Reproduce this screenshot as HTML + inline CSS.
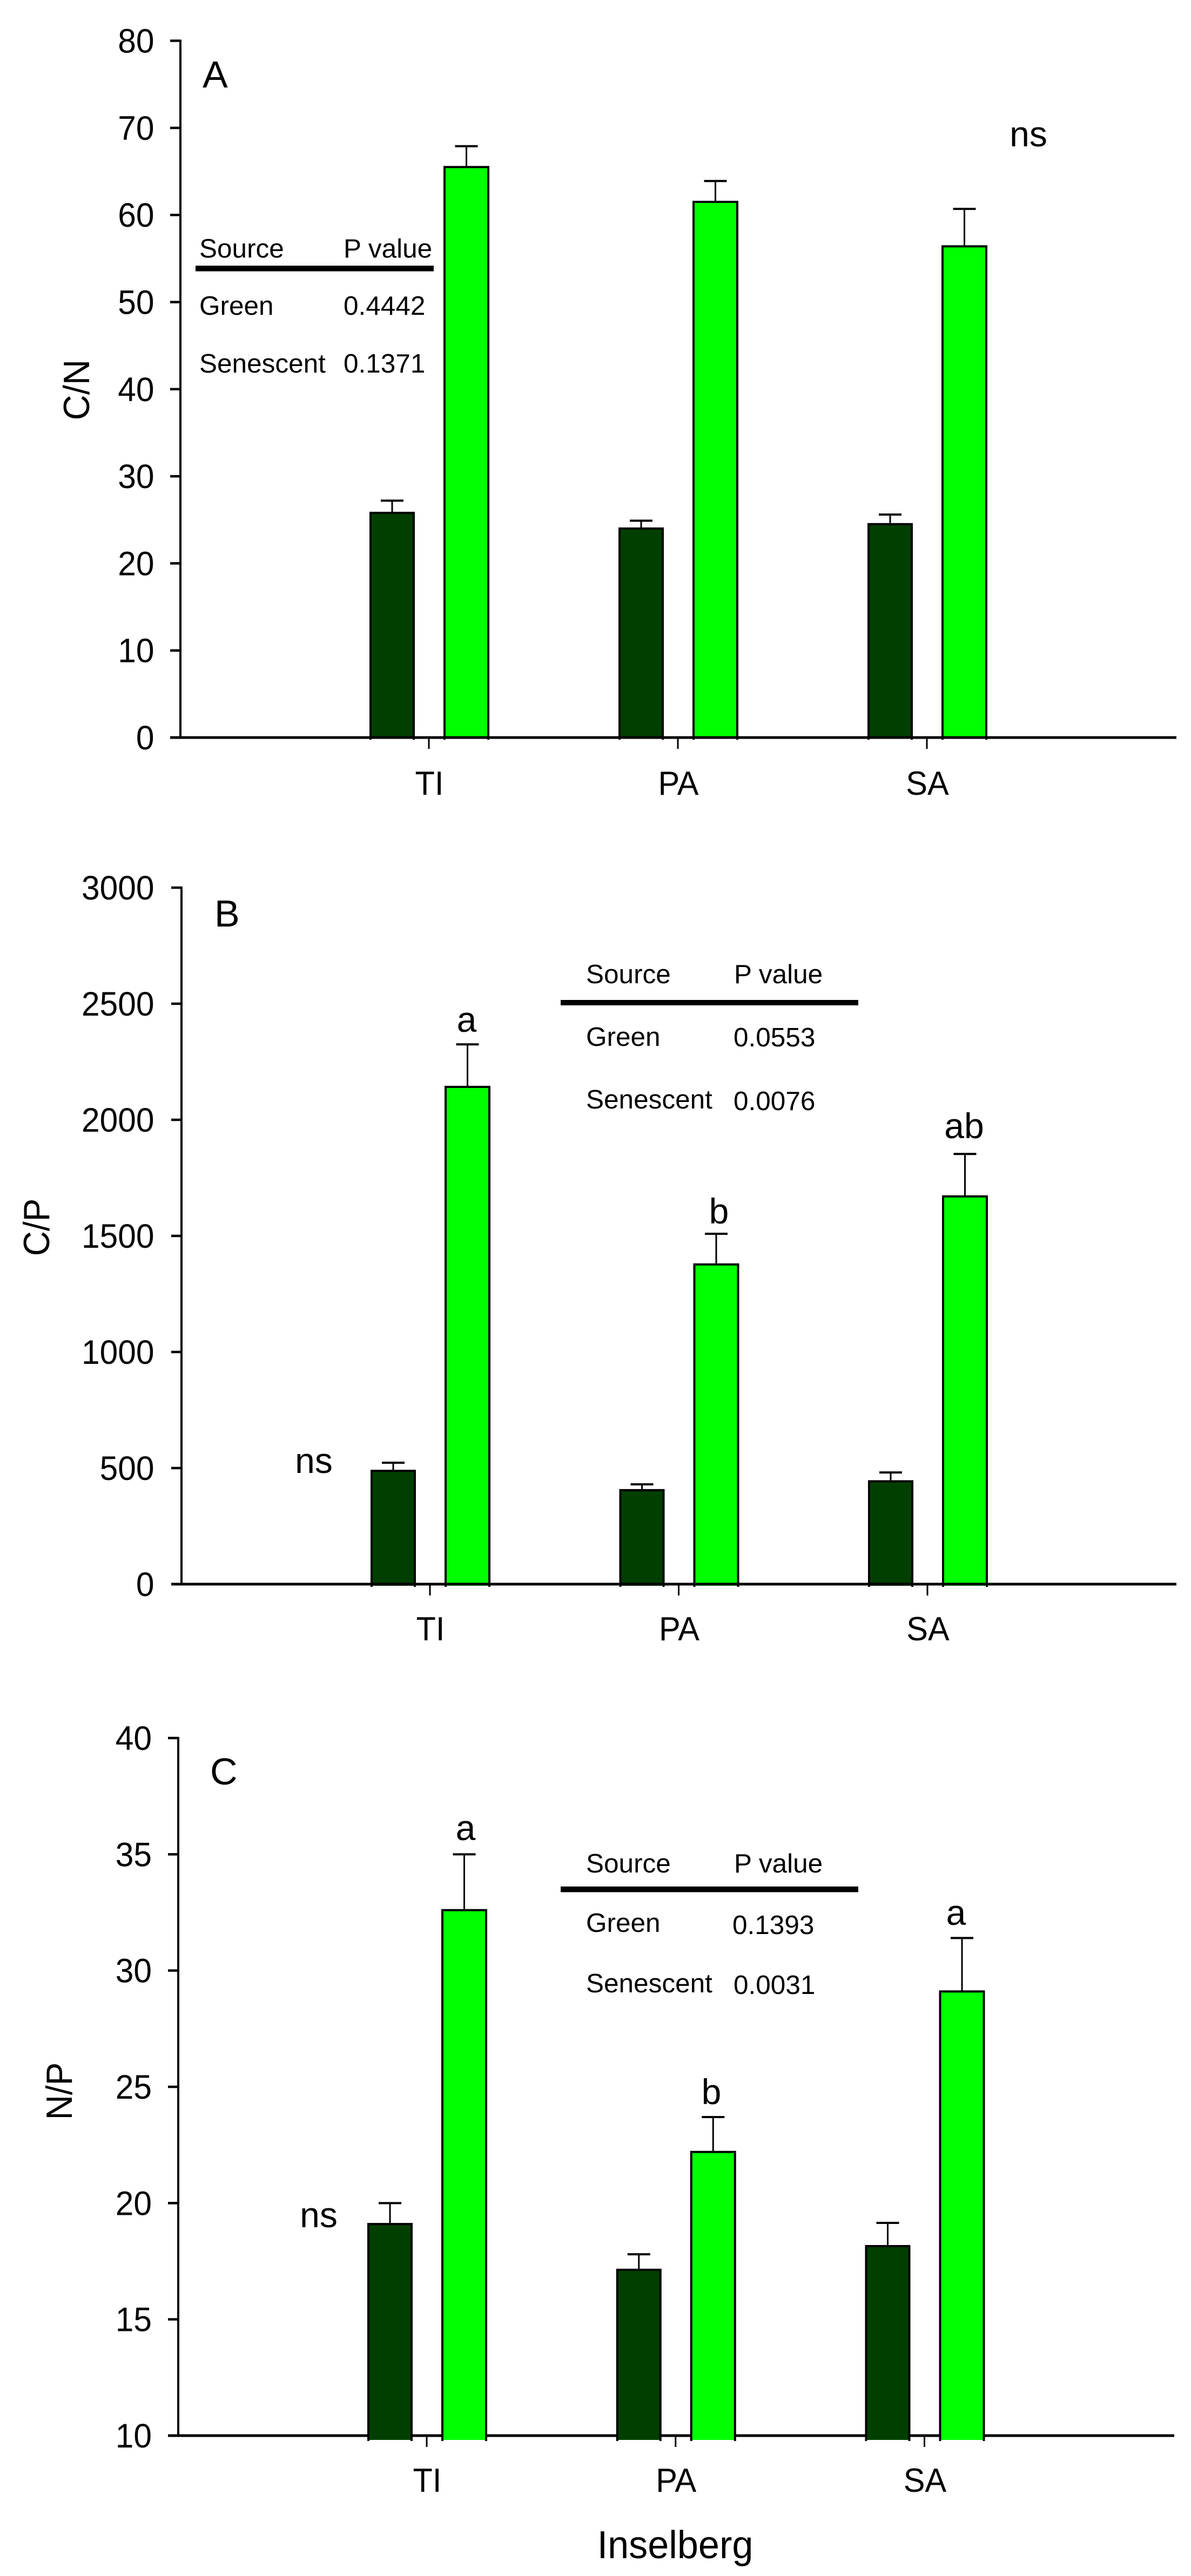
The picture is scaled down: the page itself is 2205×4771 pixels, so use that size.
<!DOCTYPE html>
<html lang="en">
<head>
<meta charset="utf-8">
<title>C/N, C/P and N/P by inselberg</title>
<style>
html,body{margin:0;padding:0;background:#fff;}
svg{display:block;}
text{font-family:"Liberation Sans",Arial,sans-serif;fill:#000;}
.lg{font-size:49.5px;}
.sig{font-size:66px;text-anchor:middle;}
.pl{font-size:70px;}
.yt{font-size:68px;text-anchor:middle;}
</style>
</head>
<body>
<svg id="figure" xmlns="http://www.w3.org/2000/svg" width="2205" height="4771" viewBox="0 0 2205 4771">
<rect x="0" y="0" width="2205" height="4771" fill="#ffffff"/>
<g id="plots"></g>

<text class="pl" x="375" y="162">A</text>
<text class="yt" transform="translate(165,722) rotate(-90) scale(.96,1)">C/N</text>
<text class="sig" x="1904" y="271">ns</text>
<g>
<text class="lg" x="369" y="477">Source</text>
<text class="lg" x="636" y="477">P value</text>
<rect x="362" y="492" width="441" height="10.5" fill="#000"/>
<text class="lg" x="369" y="583">Green</text>
<text class="lg" x="636" y="583">0.4442</text>
<text class="lg" x="369" y="690">Senescent</text>
<text class="lg" x="636" y="690">0.1371</text>
</g>

<text class="pl" x="397" y="1716">B</text>
<text class="yt" transform="translate(91,2273) rotate(-90) scale(.94,1)">C/P</text>
<text class="sig" x="581" y="2728">ns</text>
<text class="sig" x="864" y="1911">a</text>
<text class="sig" x="1331" y="2266">b</text>
<text class="sig" x="1785" y="2108">ab</text>
<g>
<text class="lg" x="1085" y="1821">Source</text>
<text class="lg" x="1359" y="1821">P value</text>
<rect x="1038" y="1852" width="551" height="10" fill="#000"/>
<text class="lg" x="1085" y="1937">Green</text>
<text class="lg" x="1358" y="1938">0.0553</text>
<text class="lg" x="1085" y="2053">Senescent</text>
<text class="lg" x="1358" y="2056">0.0076</text>
</g>

<text class="pl" x="389" y="3305">C</text>
<text class="yt" transform="translate(133,3873) rotate(-90) scale(.94,1)">N/P</text>
<text class="sig" x="590" y="4125">ns</text>
<text class="sig" x="862" y="3408">a</text>
<text class="sig" x="1317" y="3897">b</text>
<text class="sig" x="1770" y="3565">a</text>
<g>
<text class="lg" x="1085" y="3468">Source</text>
<text class="lg" x="1359" y="3468">P value</text>
<rect x="1038" y="3494" width="551" height="10.5" fill="#000"/>
<text class="lg" x="1085" y="3578">Green</text>
<text class="lg" x="1356" y="3582">0.1393</text>
<text class="lg" x="1085" y="3690">Senescent</text>
<text class="lg" x="1358" y="3693">0.0031</text>
</g>

<text font-size="72" text-anchor="middle" transform="translate(1250,4738) scale(.975,1)">Inselberg</text>
</svg>

<script>
const categories = ['TI', 'PA', 'SA'];

const cnTicks = [0, 10, 20, 30, 40, 50, 60, 70, 80];
const cnGreen = [25.8, 24.0, 24.5];
const cnGreenUpper = [27.2, 24.9, 25.6];
const cnSenescent = [65.5, 61.5, 56.4];
const cnSenescentUpper = [67.9, 63.9, 60.7];

const cpTicks = [0, 500, 1000, 1500, 2000, 2500, 3000];
const cpGreen = [488, 405, 443];
const cpGreenUpper = [523, 430, 481];
const cpSenescent = [2142, 1377, 1670];
const cpSenescentUpper = [2325, 1509, 1853];

const npTicks = [10, 15, 20, 25, 30, 35, 40];
const npGreen = [19.1, 17.13, 18.15];
const npGreenUpper = [20.0, 17.8, 19.15];
const npSenescent = [32.6, 22.2, 29.1];
const npSenescentUpper = [35.0, 23.7, 31.4];

const SVGNS = 'http://www.w3.org/2000/svg';
const root = document.getElementById('plots');

function mk(parent, tag, attrs) {
  const el = document.createElementNS(SVGNS, tag);
  for (const k in attrs) el.setAttribute(k, attrs[k]);
  parent.appendChild(el);
  return el;
}

function drawPanel(cfg) {
  const panel = mk(root, 'g', {});
  
  

  const tMin = cfg.ticks[0];
  const tMax = cfg.ticks[cfg.ticks.length - 1];
  const yScale = function (v) {
    return cfg.yBase + (v - tMin) * (cfg.yTop - cfg.yBase) / (tMax - tMin);
  };
  const xScale = function (i) {
    return cfg.x0 + i * cfg.dx;
  };

  function drawAxes() {
    const yAxis = mk(panel, 'line', {x1: cfg.axisX, x2: cfg.axisX, y1: yScale(tMax) - 2, y2: yScale(tMin), stroke: '#000', 'stroke-width': 4});
    
    

    const xAxis = mk(panel, 'line', {x1: cfg.axisX - 19, x2: cfg.axisEnd, y1: yScale(tMin), y2: yScale(tMin), stroke: '#000', 'stroke-width': 5});
    
    

    cfg.ticks.forEach(function (t) {
      const y = yScale(t);
      const tick = mk(panel, 'line', {x1: cfg.axisX - 19, x2: cfg.axisX, y1: y, y2: y, stroke: '#000', 'stroke-width': 4.5});
      
      

      const label = mk(panel, 'text', {'text-anchor': 'end', 'font-size': 63, transform: 'translate(' + cfg.labelRight + ',' + (y + 22) + ') scale(.96,1)'});
      
      
      label.textContent = String(t);
    });

    categories.forEach(function (c, i) {
      const x = xScale(i);
      const tick = mk(panel, 'line', {x1: x, x2: x, y1: yScale(tMin), y2: yScale(tMin) + 21, stroke: '#000', 'stroke-width': 3});
      
      

      const label = mk(panel, 'text', {'text-anchor': 'middle', 'font-size': 62, transform: 'translate(' + (x + 1) + ',' + cfg.xLabelY + ') scale(.96,1)'});
      
      
      label.textContent = c;
    });
  }

  function drawBar(i, value, upper, left, right, fill, seriesName) {
    const x = xScale(i);
    const xl = x + left;
    const xr = x + right;
    const top = yScale(value);
    const bottom = yScale(tMin) + cfg.barDrop;
    const cx = (xl + xr) / 2;

    const stem = mk(panel, 'line', {x1: cx, x2: cx, y1: top, y2: yScale(upper), stroke: '#000', 'stroke-width': 3});
    
    

    const cap = mk(panel, 'line', {x1: cx - 21, x2: cx + 21, y1: yScale(upper), y2: yScale(upper), stroke: '#000', 'stroke-width': 4});
    
    

    const bar = mk(panel, 'rect', {x: xl, y: top, width: xr - xl, height: bottom - top, fill: fill});
    
    

    const outline = mk(panel, 'path', {d: 'M' + xl + ' ' + (bottom + 2) + 'V' + top + 'H' + xr + 'V' + (bottom + 2), fill: 'none', stroke: '#000', 'stroke-width': 4});
    
    
  }

  function drawBars() {
    categories.forEach(function (c, i) {
      drawBar(i, cfg.green[i], cfg.greenUpper[i], -108, -28, '#003f00', 'green');
      drawBar(i, cfg.senescent[i], cfg.senescentUpper[i], 29, 110, '#00ff00', 'senescent');
    });
  }

  if (cfg.barsOnTop) {
    drawAxes();
    drawBars();
  } else {
    drawBars();
    drawAxes();
  }
}

drawPanel({id: 'a', ticks: cnTicks, green: cnGreen, greenUpper: cnGreenUpper, senescent: cnSenescent, senescentUpper: cnSenescentUpper,
  yTop: 75.5, yBase: 1366, axisX: 334, axisEnd: 2178, x0: 794, dx: 461, labelRight: 285.5, xLabelY: 1472, barDrop: 2, barsOnTop: false});
drawPanel({id: 'b', ticks: cpTicks, green: cpGreen, greenUpper: cpGreenUpper, senescent: cpSenescent, senescentUpper: cpSenescentUpper,
  yTop: 1644, yBase: 2934, axisX: 336, axisEnd: 2178, x0: 796, dx: 460.5, labelRight: 285.5, xLabelY: 3038, barDrop: 3, barsOnTop: false});
drawPanel({id: 'c', ticks: npTicks, green: npGreen, greenUpper: npGreenUpper, senescent: npSenescent, senescentUpper: npSenescentUpper,
  yTop: 3219, yBase: 4511, axisX: 330, axisEnd: 2174, x0: 790, dx: 460.75, labelRight: 281, xLabelY: 4615, barDrop: 8, barsOnTop: true});
</script>
</body>
</html>
